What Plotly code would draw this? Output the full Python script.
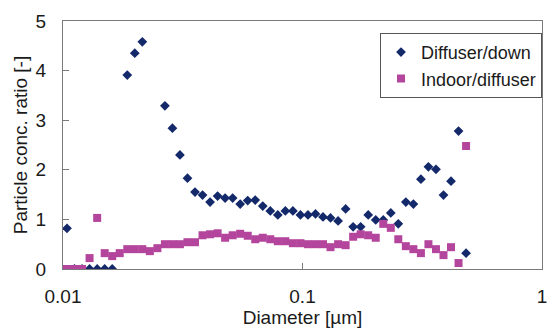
import plotly.graph_objects as go

# Particle diameter channels [µm]
diameter = [0.01039, 0.01117, 0.01201, 0.01291, 0.01389, 0.01493, 0.01605, 0.01725,
            0.01855, 0.01994, 0.02144, 0.02305, 0.02478, 0.02664, 0.02863, 0.03078,
            0.03309, 0.03558, 0.03825, 0.04112, 0.04421, 0.04752, 0.05109, 0.05493,
            0.05905, 0.06348, 0.06825, 0.07337, 0.07888, 0.08480, 0.09118, 0.09802,
            0.1054, 0.1133, 0.1218, 0.1309, 0.1408, 0.1514, 0.1627, 0.1749,
            0.1881, 0.2022, 0.2174, 0.2337, 0.2512, 0.2701, 0.2904, 0.3122,
            0.3356, 0.3608, 0.3879, 0.4170, 0.4483, 0.4819]

diffuser_down = [0.82, 0, 0, 0, 0, 0, 0, None,
                 3.91, 4.35, 4.58, None, None, 3.29, 2.84, 2.30,
                 1.83, 1.55, 1.49, 1.35, 1.47, 1.43, 1.43, 1.31,
                 1.38, 1.39, 1.27, 1.17, 1.09, 1.17, 1.17, 1.09,
                 1.09, 1.11, 1.05, 1.03, 0.97, 1.21, 0.85, 0.85,
                 1.09, 0.99, 0.99, 1.13, 0.91, 1.35, 1.31, 1.81,
                 2.06, 2.01, 1.49, 1.77, 2.78, 0.32]

indoor_diffuser = [0, 0, 0, 0.22, 1.03, 0.32, 0.26, 0.32,
                   0.40, 0.40, 0.40, 0.36, 0.42, 0.50, 0.50, 0.50,
                   0.54, 0.54, 0.68, 0.70, 0.72, 0.63, 0.68, 0.71,
                   0.67, 0.60, 0.63, 0.60, 0.56, 0.56, 0.52, 0.52,
                   0.50, 0.50, 0.50, 0.44, 0.50, 0.48, 0.65, 0.70,
                   0.68, 0.63, 0.91, 0.83, 0.60, 0.46, 0.40, 0.32,
                   0.50, 0.40, 0.28, 0.44, 0.12, 2.48]

x_tickvals = [0.01, 0.1, 1]
x_ticktext = ["0.01", "0.1", "1"]
y_tickvals = [0, 1, 2, 3, 4, 5]

FONT = "Liberation Sans, Arial, sans-serif"
AXIS_COLOR = "#7a7a7a"

fig = go.Figure()
fig.add_trace(go.Scatter(
    x=diameter, y=diffuser_down, mode="markers", name="Diffuser/down",
    marker=dict(symbol="diamond", size=7.5, color="#13296a", line=dict(width=0)),
))
fig.add_trace(go.Scatter(
    x=diameter, y=indoor_diffuser, mode="markers", name="Indoor/diffuser",
    marker=dict(symbol="square", size=8, color="#b4459d", line=dict(width=0)),
))

fig.update_layout(
    width=547, height=329,
    margin=dict(l=63, r=5, t=21, b=60),
    paper_bgcolor="white", plot_bgcolor="white",
    font=dict(family=FONT, size=19, color="#1a1a1a"),
    showlegend=True,
    legend=dict(
        x=1, y=0.952, xanchor="right", yanchor="top",
        bgcolor="white", bordercolor="#555555", borderwidth=1,
        font=dict(family=FONT, size=18, color="#1a1a1a"),
        itemwidth=30, tracegroupgap=0,
    ),
)

fig.update_xaxes(
    type="log", range=[-2, 0], automargin=False,
    tickvals=x_tickvals, ticktext=x_ticktext,
    ticks="inside", ticklen=6, tickcolor=AXIS_COLOR,
    showline=True, linecolor=AXIS_COLOR, linewidth=1, mirror=True,
    showgrid=False, zeroline=False,
    ticklabelstandoff=10, ticklabeloverflow="allow",
    title=dict(text="Diameter [µm]", font=dict(size=19), standoff=4),
)
fig.update_yaxes(
    range=[0, 5], automargin=False,
    tickvals=y_tickvals,
    ticks="inside", ticklen=6, tickcolor=AXIS_COLOR,
    showline=True, linecolor=AXIS_COLOR, linewidth=1, mirror=True,
    showgrid=False, zeroline=False,
    ticklabelstandoff=12,
    title=dict(text="Particle conc. ratio [-]", font=dict(size=19), standoff=2),
)

fig.write_html("out.html")
